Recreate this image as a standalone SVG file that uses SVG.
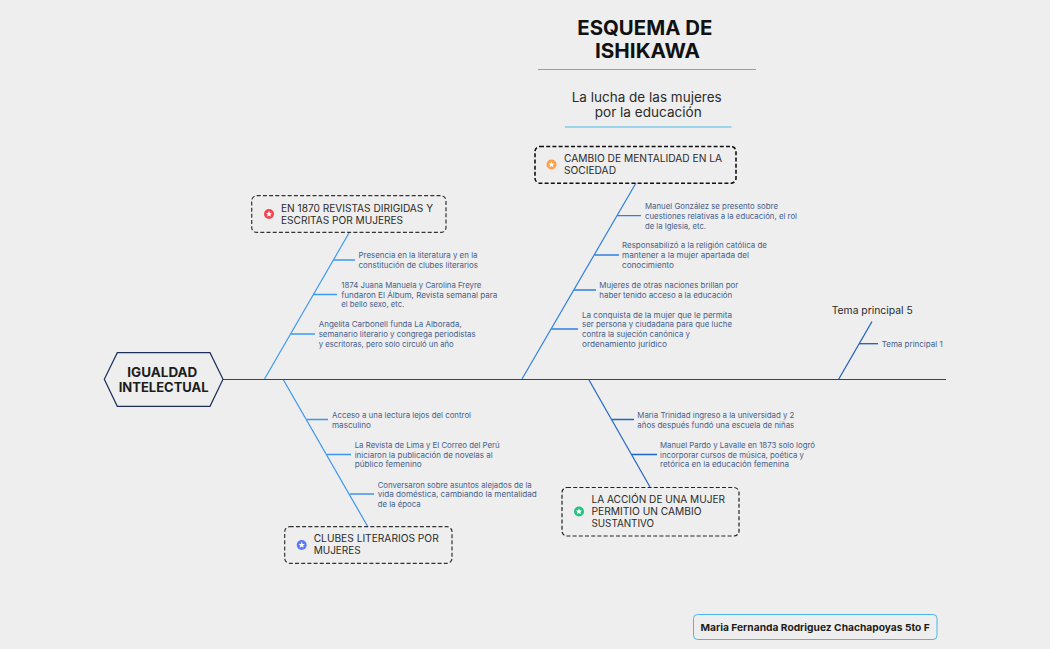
<svg xmlns="http://www.w3.org/2000/svg" width="1050" height="649" viewBox="0 0 1050 649">
<style>
text{font-family:"Inter","Open Sans","Liberation Sans",sans-serif}
.s{font-size:7.9px;fill:#45608a}
.b{font-size:10.3px;fill:#2b2b2b}
.box{fill:none;stroke:#333;stroke-width:1.2;stroke-dasharray:4 2.2}
.c{fill:none}
.sub{stroke-width:1.3}
</style>
<defs>
<polygon id="st" points="0,-3.2 0.9,-1 3.1,-1 1.4,0.4 2,2.7 0,1.4 -2,2.7 -1.4,0.4 -3.1,-1 -0.9,-1" fill="#fff"/>
</defs>
<rect width="1050" height="649" fill="#eeeeee"/>
<g id="connectors" class="c">
<path d="M223 379.500H946" stroke="#1a4696" stroke-width="1.2"/>
<g stroke="#3d9bf2"><path d="M264.500 379 349 233" stroke-width="1.2"/><path class="sub" d="M333.500 260H355M313 294.500H337M291 334H315"/></g>
<g stroke="#2f80e0"><path d="M522 379 636 183" stroke-width="1.2"/><path class="sub" d="M617 215.700H641M594.500 255H619M574 290H596M551.500 329H578"/></g>
<g stroke="#3d95f0"><path d="M283.500 380 368 527" stroke-width="1.2"/><path class="sub" d="M307 419.500H328M327 454.500H351M350 494H374"/></g>
<g stroke="#1f66c8"><path d="M589 380 650 487" stroke-width="1.2"/><path class="sub" d="M612 419.500H634M632 454.500H657"/></g>
<g stroke="#1f5cb8"><path d="M838.500 379.500 872 321.500" stroke-width="1.2"/><path class="sub" d="M859 343.700H878"/></g>
</g>
<g id="title">
<text x="577.300" y="34.500" font-size="20" font-weight="700" fill="#111" lengthAdjust="spacingAndGlyphs" textLength="135">ESQUEMA DE</text>
<text x="595" y="58" font-size="20" font-weight="700" fill="#111" lengthAdjust="spacingAndGlyphs" textLength="105">ISHIKAWA</text>
<path d="M538 69.500H756" stroke="#55b5cf" stroke-width="1"/>
</g>
<g id="subtitle">
<text x="571.700" y="101.500" font-size="13" fill="#2b2b2b" lengthAdjust="spacingAndGlyphs" textLength="150">La lucha de las mujeres</text>
<text x="594.700" y="117" font-size="13" fill="#2b2b2b" lengthAdjust="spacingAndGlyphs" textLength="107">por la educación</text>
<path d="M565 127H731.500" stroke="#7fcbe6" stroke-width="1.5"/>
</g>
<g id="root">
<polygon points="104.300,379.300 117.300,352.700 210,352.700 223,379.300 210,406.300 117.300,406.300" fill="#eeeeee" stroke="#1c2f5c" stroke-width="1.2"/>
<text x="127.300" y="376.500" font-size="13" font-weight="700" fill="#1c1c1c" lengthAdjust="spacingAndGlyphs" textLength="70">IGUALDAD</text>
<text x="118.700" y="392" font-size="13" font-weight="700" fill="#1c1c1c" lengthAdjust="spacingAndGlyphs" textLength="90">INTELECTUAL</text>
</g>
<g id="n1">
<rect class="box" x="251.700" y="195.700" width="194.300" height="36.700" rx="5"/>
<circle cx="269" cy="214" r="5" fill="#f4424f"/><use href="#st" x="269" y="214"/>
<text class="b" x="281" y="211.700" lengthAdjust="spacingAndGlyphs" textLength="152">EN 1870 REVISTAS DIRIGIDAS Y</text>
<text class="b" x="281" y="223.700" lengthAdjust="spacingAndGlyphs" textLength="122">ESCRITAS POR MUJERES</text>
</g>
<g id="n1a">
<text class="s" x="358.500" y="257.800" lengthAdjust="spacingAndGlyphs" textLength="119">Presencia en la literatura y en la</text>
<text class="s" x="358.500" y="267.800" lengthAdjust="spacingAndGlyphs" textLength="119.500">constitución de clubes literarios</text>
</g>
<g id="n1b">
<text class="s" x="341.300" y="287.800" lengthAdjust="spacingAndGlyphs" textLength="140">1874 Juana Manuela y Carolina Freyre</text>
<text class="s" x="341.300" y="297.800" lengthAdjust="spacingAndGlyphs" textLength="156">fundaron El Álbum, Revista semanal para</text>
<text class="s" x="341.300" y="307.300" lengthAdjust="spacingAndGlyphs" textLength="63">el bello sexo, etc.</text>
</g>
<g id="n1c">
<text class="s" x="318.700" y="327.100" lengthAdjust="spacingAndGlyphs" textLength="143">Angelita Carbonell funda La Alborada,</text>
<text class="s" x="318.700" y="337.100" lengthAdjust="spacingAndGlyphs" textLength="157">semanario literario y congrega periodistas</text>
<text class="s" x="318.700" y="346.800" lengthAdjust="spacingAndGlyphs" textLength="135">y escritoras, pero solo circuló un año</text>
</g>
<g id="n2">
<rect x="535" y="146.500" width="201" height="36.700" rx="5" fill="none" stroke="#111" stroke-width="1.6" stroke-dasharray="4 2.2"/>
<circle cx="551.500" cy="164.500" r="5" fill="#ff9f45"/><use href="#st" x="551.500" y="164.500"/>
<text class="b" x="564" y="162" lengthAdjust="spacingAndGlyphs" textLength="158">CAMBIO DE MENTALIDAD EN LA</text>
<text class="b" x="564" y="174" lengthAdjust="spacingAndGlyphs" textLength="52">SOCIEDAD</text>
</g>
<g id="n2a">
<text class="s" x="645" y="208.800" lengthAdjust="spacingAndGlyphs" textLength="133">Manuel González se presento sobre</text>
<text class="s" x="645" y="218.800" lengthAdjust="spacingAndGlyphs" textLength="152">cuestiones relativas a la educación, el rol</text>
<text class="s" x="645" y="228.800" lengthAdjust="spacingAndGlyphs" textLength="61">de la Iglesia, etc.</text>
</g>
<g id="n2b">
<text class="s" x="622" y="248.100" lengthAdjust="spacingAndGlyphs" textLength="145">Responsabilizó a la religión católica de</text>
<text class="s" x="622" y="258.100" lengthAdjust="spacingAndGlyphs" textLength="127">mantener a la mujer apartada del</text>
<text class="s" x="622" y="268.100" lengthAdjust="spacingAndGlyphs" textLength="52">conocimiento</text>
</g>
<g id="n2c">
<text class="s" x="599.300" y="287.800" lengthAdjust="spacingAndGlyphs" textLength="139">Mujeres de otras naciones brillan por</text>
<text class="s" x="599.300" y="297.500" lengthAdjust="spacingAndGlyphs" textLength="133">haber tenido acceso a la educación</text>
</g>
<g id="n2d">
<text class="s" x="582" y="317.500" lengthAdjust="spacingAndGlyphs" textLength="150">La conquista de la mujer que le permita</text>
<text class="s" x="582" y="327.100" lengthAdjust="spacingAndGlyphs" textLength="150">ser persona y ciudadana para que luche</text>
<text class="s" x="582" y="337.100" lengthAdjust="spacingAndGlyphs" textLength="108">contra la sujeción canónica y</text>
<text class="s" x="582" y="346.800" lengthAdjust="spacingAndGlyphs" textLength="85">ordenamiento jurídico</text>
</g>
<g id="n3">
<rect class="box" x="284.700" y="526.700" width="167.300" height="36.600" rx="5"/>
<circle cx="301.700" cy="545" r="5" fill="#5b7cf5"/><use href="#st" x="301.700" y="545"/>
<text class="b" x="313.700" y="542.400" lengthAdjust="spacingAndGlyphs" textLength="125">CLUBES LITERARIOS POR</text>
<text class="b" x="313.700" y="554.400" lengthAdjust="spacingAndGlyphs" textLength="47">MUJERES</text>
</g>
<g id="n3a">
<text class="s" x="332" y="418.100" lengthAdjust="spacingAndGlyphs" textLength="139">Acceso a una lectura lejos del control</text>
<text class="s" x="332" y="427.800" lengthAdjust="spacingAndGlyphs" textLength="39">masculino</text>
</g>
<g id="n3b">
<text class="s" x="354.700" y="447.800" lengthAdjust="spacingAndGlyphs" textLength="145">La Revista de Lima y El Correo del Perú</text>
<text class="s" x="354.700" y="457.500" lengthAdjust="spacingAndGlyphs" textLength="138">iniciaron la publicación de novelas al</text>
<text class="s" x="354.700" y="467.100" lengthAdjust="spacingAndGlyphs" textLength="67">público femenino</text>
</g>
<g id="n3c">
<text class="s" x="377.700" y="487.500" lengthAdjust="spacingAndGlyphs" textLength="154">Conversaron sobre asuntos alejados de la</text>
<text class="s" x="377.700" y="496.800" lengthAdjust="spacingAndGlyphs" textLength="159">vida doméstica, cambiando la mentalidad</text>
<text class="s" x="377.700" y="506.800" lengthAdjust="spacingAndGlyphs" textLength="43">de la época</text>
</g>
<g id="n4">
<rect class="box" x="562" y="487.500" width="177" height="48.500" rx="5" style="stroke:#222"/>
<circle cx="579" cy="511.500" r="5" fill="#25c17e"/><use href="#st" x="579" y="511.500"/>
<text class="b" x="591.500" y="503" lengthAdjust="spacingAndGlyphs" textLength="133.500">LA ACCIÓN DE UNA MUJER</text>
<text class="b" x="591.500" y="515.400" lengthAdjust="spacingAndGlyphs" textLength="110">PERMITIO UN CAMBIO</text>
<text class="b" x="591.500" y="527.400" lengthAdjust="spacingAndGlyphs" textLength="62.500">SUSTANTIVO</text>
</g>
<g id="n4a">
<text class="s" x="637.300" y="418.100" lengthAdjust="spacingAndGlyphs" textLength="157">Maria Trinidad ingreso a la universidad y 2</text>
<text class="s" x="637.300" y="427.800" lengthAdjust="spacingAndGlyphs" textLength="157">años después fundó una escuela de niñas</text>
</g>
<g id="n4b">
<text class="s" x="660" y="447.800" lengthAdjust="spacingAndGlyphs" textLength="155">Manuel Pardo y Lavalle en 1873 solo logró</text>
<text class="s" x="660" y="457.500" lengthAdjust="spacingAndGlyphs" textLength="144">incorporar cursos de música, poética y</text>
<text class="s" x="660" y="467.100" lengthAdjust="spacingAndGlyphs" textLength="129">retórica en la educación femenina</text>
</g>
<g id="n5">
<text x="831.700" y="314" font-size="10.300" fill="#2b2b2b" lengthAdjust="spacingAndGlyphs" textLength="81">Tema principal 5</text>
</g>
<g id="n5a">
<text class="s" x="881.700" y="346.800" lengthAdjust="spacingAndGlyphs" textLength="61">Tema principal 1</text>
</g>
<g id="author">
<rect x="693.500" y="614.500" width="243.500" height="25" rx="4" fill="none" stroke="#4ab8e8" stroke-width="1"/>
<text x="700.500" y="630.500" font-size="9.500" font-weight="700" fill="#1c1c1c" lengthAdjust="spacingAndGlyphs" textLength="229.300">Maria Fernanda Rodriguez Chachapoyas 5to F</text>
</g>
</svg>
